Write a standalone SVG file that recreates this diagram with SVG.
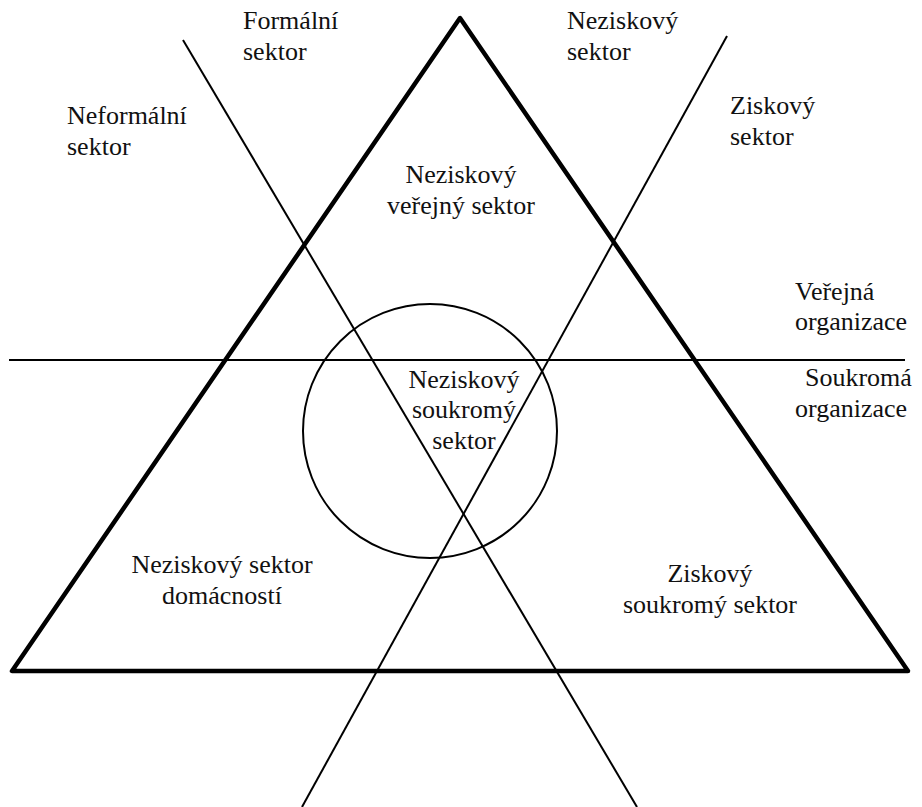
<svg xmlns="http://www.w3.org/2000/svg" width="922" height="807" viewBox="0 0 922 807">
<style>
.m{text-anchor:middle}
.ln{stroke:#000;stroke-width:2;fill:none}
</style>
<rect width="922" height="807" fill="#fff"/>
<g id="connectors">
<polygon id="triangle" points="460,18 12,671 908,671" fill="none" stroke="#000" stroke-width="4.5" stroke-linejoin="round"/>
<line class="ln" x1="9" y1="360" x2="905" y2="360"/>
<line class="ln" x1="183" y1="40" x2="637" y2="807"/>
<line class="ln" x1="727" y1="36" x2="302" y2="807"/>
<circle class="ln" cx="430" cy="431" r="127" stroke-width="2.5"/>
</g>
<g font-family="Liberation Serif, DejaVu Serif, serif" font-size="26" fill="#111">
<g id="formalni"><text x="243" y="29">Formální</text><text x="243" y="60">sektor</text></g>
<g id="neformalni"><text x="67" y="124">Neformální</text><text x="67" y="155">sektor</text></g>
<g id="neziskovy"><text x="567" y="29">Neziskový</text><text x="567" y="60">sektor</text></g>
<g id="ziskovy"><text x="730" y="114">Ziskový</text><text x="730" y="145">sektor</text></g>
<g id="verejny-sektor"><text class="m" x="461" y="183">Neziskový</text><text class="m" x="461" y="214">veřejný sektor</text></g>
<g id="verejna-org"><text x="795" y="300">Veřejná</text><text x="795" y="330">organizace</text></g>
<g id="soukroma-org"><text x="805" y="386">Soukromá</text><text x="795" y="417">organizace</text></g>
<g id="soukromy-sektor"><text class="m" x="464" y="388">Neziskový</text><text class="m" x="464" y="418">soukromý</text><text class="m" x="464" y="449">sektor</text></g>
<g id="domacnosti"><text class="m" x="222" y="573">Neziskový sektor</text><text class="m" x="222" y="604">domácností</text></g>
<g id="ziskovy-soukromy"><text class="m" x="710" y="582">Ziskový</text><text class="m" x="710" y="613">soukromý sektor</text></g>
</g>
</svg>
